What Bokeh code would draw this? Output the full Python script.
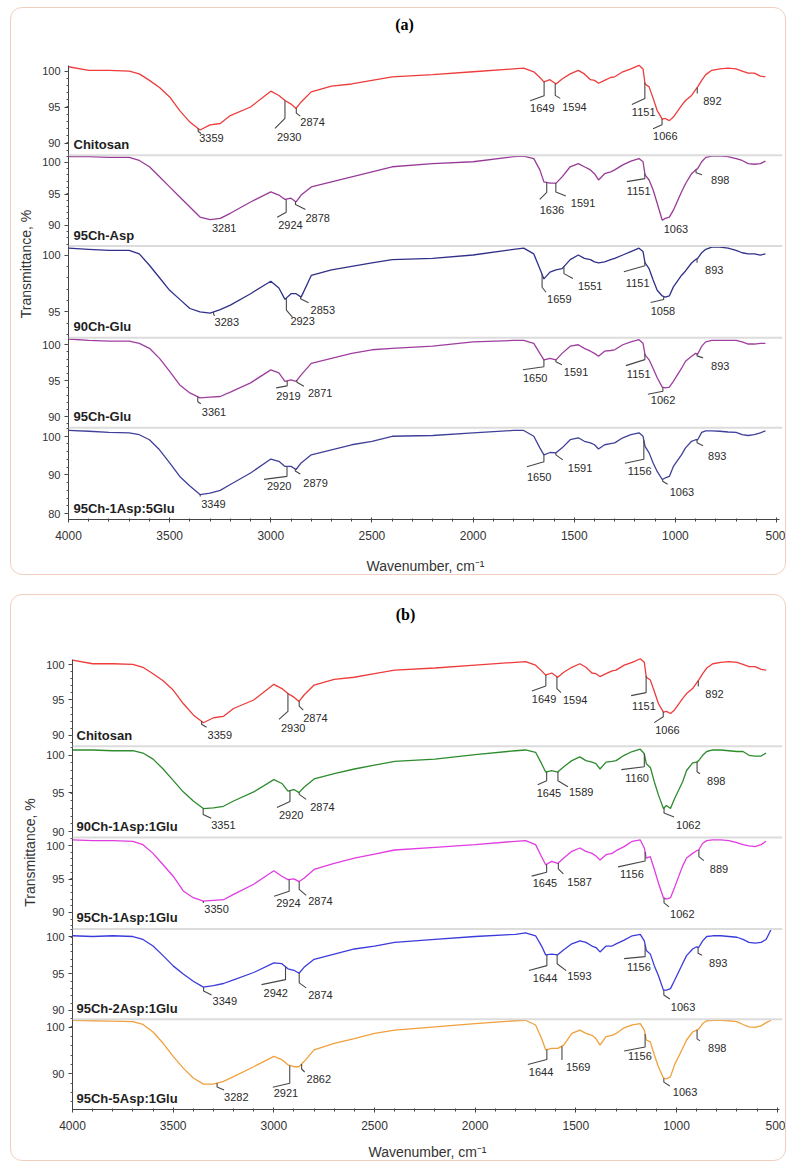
import numpy as np
from bokeh.plotting import figure
from bokeh.models import Range1d, FixedTicker, Span, ColumnDataSource
from bokeh.core.properties import value
from bokeh.embed import file_html
from bokeh.resources import INLINE

NAN = float("nan")

# ---------------- data ----------------
WAVENUMBER = [4000, 3900, 3800, 3700, 3650, 3600, 3550, 3500, 3450, 3400,
              3350, 3300, 3250, 3200, 3100, 3000, 2960, 2930, 2900, 2875,
              2850, 2800, 2700, 2600, 2500, 2400, 2200, 2000, 1800, 1750,
              1700, 1670, 1650, 1620, 1590, 1560, 1520, 1480, 1450, 1420,
              1400, 1380, 1350, 1320, 1300, 1260, 1220, 1180, 1160, 1150,
              1130, 1110, 1090, 1065, 1050, 1030, 1010, 970, 950, 920,
              900, 890, 870, 850, 820, 780, 740, 700, 670, 640,
              610, 580, 555, 530]

CHITOSAN = [100.6, 100.1, 100.1, 100.0, 99.6, 98.7, 97.7, 96.4, 94.5, 92.9,
            91.8, 92.5, 92.7, 93.8, 95.0, 97.2, 96.6, 95.9, 95.4, 94.8,
            95.7, 97.1, 97.9, 98.2, 98.7, 99.2, 99.5, 99.9, 100.3, 100.4,
            99.9, 99.1, 98.5, 98.8, 98.2, 98.9, 99.6, 100.1, 99.6, 98.8,
            98.7, 98.3, 98.7, 99.1, 99.2, 99.9, 100.3, 100.8, 100.3, 98.2,
            97.8, 96.2, 94.5, 93.3, 93.4, 93.1, 93.6, 95.2, 95.9, 96.6,
            97.4, 97.8, 98.7, 99.5, 100.1, 100.3, 100.4, 100.3, 100.0, 99.7,
            99.7, 99.3, 99.2, NAN]

CH95_ASP = [100.9, 100.9, 100.8, 100.8, 100.3, 99.3, 97.7, 96.1, 94.5, 92.9,
            91.3, 90.9, 91.1, 91.9, 93.7, 95.3, 94.8, 94.1, 94.3, 93.7,
            94.8, 96.1, 96.9, 97.7, 98.5, 99.3, 99.8, 100.1, 100.9, 101.0,
            100.6, 98.8, 96.9, 96.7, 96.7, 97.7, 99.3, 99.8, 99.3, 98.8,
            98.2, 97.2, 98.2, 98.5, 98.8, 99.6, 100.2, 100.6, 100.1, 98.0,
            97.2, 95.6, 93.5, 90.8, 91.1, 91.3, 92.4, 95.3, 96.6, 98.2,
            98.8, 99.0, 100.1, 100.8, 101.0, 101.0, 100.9, 100.6, 100.3, 99.8,
            99.7, 99.8, 100.2, NAN]

CH90_GLU = [100.6, 100.5, 100.4, 100.4, 100.1, 99.1, 98.0, 96.9, 96.1, 95.3,
            95.0, 94.9, 95.2, 95.6, 96.6, 97.7, 97.1, 96.1, 96.6, 96.6,
            96.3, 98.2, 98.7, 99.0, 99.3, 99.6, 99.7, 100.0, 100.5, 100.6,
            100.1, 98.8, 97.9, 98.5, 98.7, 98.8, 99.6, 100.0, 99.7, 99.6,
            99.4, 99.3, 99.4, 99.6, 99.7, 100.0, 100.3, 100.6, 100.3, 99.3,
            98.8, 97.8, 96.9, 96.4, 96.3, 96.4, 97.2, 98.2, 98.6, 99.3,
            99.6, 99.7, 100.2, 100.5, 100.7, 100.7, 100.6, 100.4, 100.2, 100.1,
            100.1, 100.0, 100.1, NAN]

CH95_GLU = [100.8, 100.6, 100.5, 100.5, 100.2, 99.5, 98.1, 96.3, 94.4, 93.3,
            92.6, 92.7, 92.8, 93.4, 94.7, 96.5, 96.1, 94.9, 95.1, 94.9,
            95.8, 97.4, 98.1, 98.8, 99.3, 99.5, 99.8, 100.4, 100.6, 100.6,
            100.2, 98.8, 97.9, 98.1, 97.9, 98.8, 99.8, 100.0, 99.5, 99.1,
            98.8, 98.4, 99.1, 99.2, 99.3, 100.0, 100.4, 100.7, 100.2, 98.6,
            97.9, 96.7, 95.4, 94.1, 94.0, 94.1, 94.9, 96.7, 97.7, 98.4,
            98.8, 98.7, 99.8, 100.4, 100.6, 100.6, 100.6, 100.6, 100.4, 100.1,
            100.1, 100.2, 100.2, NAN]

CH95_1ASP_5GLU = [101.5, 101.3, 101.0, 100.9, 100.4, 99.1, 96.5, 93.1, 89.6, 87.1,
                  84.9, 85.3, 86.0, 87.5, 90.5, 94.1, 93.5, 92.2, 92.2, 91.4,
                  93.1, 95.2, 96.5, 97.8, 98.7, 100.0, 100.2, 100.9, 101.5, 101.5,
                  100.0, 97.0, 95.2, 95.8, 95.7, 97.0, 99.1, 99.6, 98.7, 98.3,
                  97.8, 96.7, 97.8, 98.1, 98.3, 99.6, 100.4, 100.9, 100.0, 97.4,
                  95.7, 93.1, 90.9, 88.8, 89.2, 89.6, 92.2, 95.2, 97.0, 98.7,
                  99.1, 99.1, 101.0, 101.4, 101.4, 101.3, 101.1, 101.0, 100.4, 100.2,
                  100.4, 100.9, 101.4, NAN]

CH90_1ASP_1GLU = [100.7, 100.7, 100.6, 100.6, 100.3, 99.5, 98.2, 96.7, 95.2, 94.0,
                  93.0, 93.1, 93.3, 94.0, 95.2, 96.8, 96.3, 95.3, 95.5, 95.1,
                  95.8, 96.9, 97.6, 98.2, 98.7, 99.2, 99.5, 100.1, 100.6, 100.7,
                  100.4, 98.9, 97.8, 98.0, 97.8, 98.5, 99.3, 99.8, 99.3, 99.1,
                  98.9, 98.2, 99.1, 99.2, 99.3, 100.0, 100.5, 100.8, 100.2, 98.9,
                  98.4, 96.5, 94.8, 93.0, 93.4, 93.0, 94.3, 96.5, 98.0, 99.0,
                  99.1, 99.3, 100.0, 100.5, 100.7, 100.7, 100.6, 100.5, 100.5, 100.0,
                  99.9, 99.9, 100.3, NAN]

CH95_1ASP_1GLU = [100.8, 100.7, 100.7, 100.6, 100.1, 98.8, 97.1, 95.4, 93.2, 92.2,
                  91.7, 91.8, 91.9, 92.7, 94.2, 96.2, 95.4, 94.9, 95.0, 94.6,
                  95.1, 96.4, 97.3, 98.1, 98.7, 99.3, 99.7, 100.1, 100.6, 100.7,
                  100.1, 98.3, 97.1, 97.6, 97.3, 98.1, 99.1, 99.6, 99.1, 98.8,
                  98.4, 97.8, 98.6, 98.8, 99.2, 99.8, 100.6, 100.8, 99.6, 98.1,
                  98.3, 96.4, 94.4, 92.2, 92.0, 92.2, 93.7, 96.9, 98.1, 98.8,
                  99.2, 99.3, 100.3, 100.7, 100.8, 100.8, 100.7, 100.4, 100.1, 99.9,
                  99.8, 100.1, 100.6, NAN]

CH95_2ASP_1GLU = [100.2, 100.1, 100.2, 100.1, 99.7, 98.8, 97.5, 96.1, 95.0, 94.0,
                  93.2, 93.4, 93.7, 94.2, 95.2, 96.5, 96.4, 95.7, 95.5, 95.1,
                  95.9, 97.0, 97.7, 98.4, 98.8, 99.3, 99.7, 100.1, 100.4, 100.6,
                  100.2, 98.8, 97.6, 97.7, 97.6, 98.3, 99.1, 99.5, 99.3, 98.8,
                  98.6, 98.0, 98.8, 98.8, 99.1, 99.6, 100.2, 100.4, 99.5, 98.2,
                  97.7, 96.1, 94.8, 92.8, 92.8, 93.0, 94.1, 96.4, 97.5, 98.4,
                  98.7, 98.6, 99.5, 100.1, 100.2, 100.2, 100.1, 100.0, 99.7, 99.3,
                  99.2, 99.3, 99.7, 101.1]

CH95_5ASP_1GLU = [101.4, 101.3, 101.2, 101.1, 100.5, 98.9, 96.5, 93.7, 91.2, 89.1,
                  87.8, 87.8, 88.4, 89.4, 91.5, 93.7, 93.0, 91.9, 91.5, 91.5,
                  92.6, 95.1, 96.5, 97.5, 98.6, 99.3, 100.0, 100.7, 101.3, 101.4,
                  100.4, 97.5, 95.1, 95.4, 95.4, 96.1, 98.6, 99.3, 98.6, 98.2,
                  97.5, 96.1, 97.9, 98.2, 98.6, 99.8, 100.4, 100.7, 99.3, 97.2,
                  96.8, 94.0, 91.5, 89.1, 88.9, 89.4, 91.9, 95.4, 97.2, 98.9,
                  99.3, 99.5, 100.7, 101.3, 101.4, 101.4, 101.3, 101.1, 100.5, 100.0,
                  99.9, 100.2, 100.9, 101.4]

NAMES_A = ["Chitosan", "95Ch-Asp", "90Ch-Glu", "95Ch-Glu", "95Ch-1Asp:5Glu"]
NAMES_B = ["Chitosan", "90Ch-1Asp:1Glu", "95Ch-1Asp:1Glu", "95Ch-2Asp:1Glu", "95Ch-5Asp:1Glu"]
SERIES_A = [CHITOSAN, CH95_ASP, CH90_GLU, CH95_GLU, CH95_1ASP_5GLU]
SERIES_B = [CHITOSAN, CH90_1ASP_1GLU, CH95_1ASP_1GLU, CH95_2ASP_1GLU, CH95_5ASP_1GLU]

PEAKS_A = [[3359, 2930, 2874, 1649, 1594, 1151, 1066, 892],
           [3281, 2924, 2878, 1636, 1591, 1151, 1063, 898],
           [3283, 2923, 2853, 1659, 1551, 1151, 1058, 893],
           [3361, 2919, 2871, 1650, 1591, 1151, 1062, 893],
           [3349, 2920, 2879, 1650, 1591, 1156, 1063, 893]]
PEAKS_B = [[3359, 2930, 2874, 1649, 1594, 1151, 1066, 892],
           [3351, 2920, 2874, 1645, 1589, 1160, 1062, 898],
           [3350, 2924, 2874, 1645, 1587, 1156, 1062, 889],
           [3349, 2942, 2874, 1644, 1593, 1156, 1063, 893],
           [3282, 2921, 2862, 1644, 1569, 1156, 1063, 898]]

YTICKS_A = [[100, 95, 90], [100, 95, 90], [100, 95], [100, 95, 90], [100, 90, 80]]
YTICKS_B = [[100, 95, 90], [100, 95, 90], [100, 95, 90], [100, 95, 90], [100, 90]]
XTICKS = [4000, 3500, 3000, 2500, 2000, 1500, 1000, 500]

# ---------------- styles and layout ----------------
COLORS_A = ["#ee3b3b", "#983b98", "#30308a", "#9e3e9e", "#40409a"]
COLORS_B = ["#ee3b3b", "#2e8b2e", "#e03ce0", "#3b3bdc", "#f0a03c"]

# per band: p0, scale, t0, top, bottom, minor step  (reference pixel layout)
BANDS_A = [(106.67, 7.2, 95, 65, 155, 1), (193.67, 6.3, 95, 155, 246, 1),
           (312.0, 11.4, 95, 246, 338, 1), (380.9, 7.2, 95, 338, 428, 1),
           (475.3, 3.87, 90, 428, 520, 2)]
BANDS_B = [(702.3, 7.16, 95, 662, 749, 1), (796.4, 7.67, 95, 749, 841, 1),
           (882.6, 6.77, 95, 841, 933, 1), (978.4, 7.4, 95, 933, 1024, 1),
           (1079.0, 4.73, 90, 1024, 1115, 2)]

# leader layout per label: (vertical, dx, dy, label dx, label dy) in pixels
ANN_A = [
    [(3, 3, 2, 1, 9), (18, -10, 10, -8, 36), (5, 4, 3, 4, 14), (14, -14, 5, -14, 26),
     (12, 5, 3, 7, 24), (16, -13, 6, -13, 30), (6, -9, 4, -9, 17), (6, 0, 0, 6, 14)],
    [(0, 0, 0, -2, 9), (13, -9, 5, -8, 26), (3, 10, 5, 10, 16), (10, -7, 7, -7, 28),
     (9, 10, 4, 15, 20), (5, -18, 3, -18, 17), (0, 0, 0, 1, 9), (3, 6, 2, 15, 10)],
    [(2, 1, 2, 1, 10), (12, 6, 7, 4, 23), (2, 8, 4, 10, 13), (13, 4, 5, 5, 25),
     (7, 9, 5, 14, 19), (4, -21, 6, -19, 21), (3, -13, 3, -13, 14), (4, 0, 0, 8, 11)],
    [(5, 3, 2, 4, 15), (5, -11, 2, -11, 15), (2, 7, 4, 11, 13), (7, -21, 3, -21, 18),
     (2, 6, 3, 8, 12), (6, -19, 6, -18, 20), (4, -15, 3, -12, 13), (2, 6, 2, 14, 12)],
    [(2, 0, 0, 1, 9), (10, -23, 3, -20, 20), (2, 5, 3, 8, 14), (7, -17, 5, -17, 22),
     (2, 7, 5, 12, 15), (19, -19, 4, -16, 31), (2, 5, 3, 7, 13), (3, 6, 3, 11, 16)],
]
ANN_B = [
    [(3, 5, 3, 6, 14), (18, -9, 8, -7, 34), (5, 4, 4, 4, 17), (11, -14, 5, -14, 24),
     (12, 4, 4, 6, 23), (17, -15, 3, -14, 30), (5, -9, 6, -8, 18), (6, 0, 0, 7, 13)],
    [(6, 8, 4, 8, 17), (11, -13, 6, -11, 24), (2, 7, 5, 11, 15), (9, -9, 4, -10, 21),
     (9, 10, 6, 11, 20), (13, -23, 3, -19, 24), (5, 10, 4, 12, 17), (10, 3, 2, 10, 19)],
    [(2, 0, 0, 1, 8), (12, -15, 5, -13, 24), (8, 7, 6, 9, 20), (8, -15, 4, -14, 19),
     (6, 5, 5, 9, 19), (9, -27, 6, -25, 22), (5, 5, 4, 6, 16), (7, 5, 4, 11, 19)],
    [(4, 8, 4, 9, 14), (13, -24, 5, -22, 26), (10, 7, 5, 9, 22), (11, -18, 5, -14, 23),
     (9, 9, 7, 10, 21), (12, -21, 2, -18, 22), (5, 6, 4, 7, 17), (6, 4, 2, 11, 16)],
    [(4, 7, 3, 7, 14), (18, -17, 4, -16, 28), (5, 3, 3, 5, 15), (10, -19, 5, -18, 22),
     (14, 0, 0, 4, 21), (13, -21, 4, -17, 22), (4, 6, 4, 9, 14), (9, 3, 2, 11, 18)],
]

GEO_A = dict(offset=8, canvas_left=11, width=776, height=568, frame_left=68, frame_right=782,
             kx=0.2023, axis_top=65, frame_bottom=520, title_x=404, title_y=24,
             name_dx=5, xlab_standoff=15, margin=(7, 0, 0, 10))
GEO_B = dict(offset=597, canvas_left=11, width=776, height=567, frame_left=72, frame_right=782,
             kx=0.20134, axis_top=662, frame_bottom=1115, title_x=405, title_y=616,
             name_dx=4, xlab_standoff=11, margin=(19, 0, 0, 10))

SANS = "Liberation Sans"
BOX_STYLE = {"border": "1px solid #f1cfbf", "border-radius": "12px"}


def build(label, names, series, peaks, yticks, colors, bands, ann, g):
    off = g["offset"]
    canvas_left = g["canvas_left"]
    kx = g["kx"]
    fb_local = g["frame_bottom"] - off
    x_end = 4000 - (g["frame_right"] - g["frame_left"]) / kx
    p = figure(width=g["width"], height=g["height"],
               x_range=Range1d(4000, x_end), y_range=Range1d(-fb_local, 0),
               output_backend="svg", toolbar_location=None,
               min_border_left=g["frame_left"] - canvas_left,
               min_border_right=g["width"] - (g["frame_right"] - canvas_left),
               min_border_top=0, min_border_bottom=g["height"] - fb_local,
               outline_line_color=None, background_fill_color=None,
               border_fill_color=None, styles=BOX_STYLE, margin=g["margin"])
    p.xgrid.visible = False
    p.ygrid.visible = False

    wn = np.array(WAVENUMBER, dtype=float)
    major, minor, overrides = [], [], {}
    lead_xs, lead_ys = [], []
    tx, ty, tt, txo, tyo = [], [], [], [], []

    for i in range(len(names)):
        p0, s, t0, top, bottom, step = bands[i]

        def ypos(T):
            return -(p0 - s * (np.asarray(T, dtype=float) - t0) - off)

        T = np.array(series[i], dtype=float)
        p.line(wn, ypos(T), line_color=colors[i], line_width=1.3)

        for v in yticks[i]:
            yy = int(round(float(ypos(v))))
            major.append(yy)
            overrides[yy] = str(v)
        t_lo = t0 + (p0 - bottom) / s
        t_hi = t0 + (p0 - top) / s
        v = int(np.ceil(t_lo / step)) * step
        while v <= t_hi:
            minor.append(float(ypos(v)))
            v += step

        if i < len(names) - 1:
            p.add_layout(Span(location=-(bottom - off), dimension="width",
                              line_color="#dcdcdc", line_width=2))

        p.text(x=[4000 - g["name_dx"] / kx], y=[-(bottom - off - 11)], text=[names[i]],
               text_font=value(SANS), text_font_style="bold", text_font_size="13px",
               text_color="#1e1e1e", text_align="left", text_baseline="middle")

        ok = ~np.isnan(T)
        xs_asc = wn[ok][::-1]
        t_asc = T[ok][::-1]
        for pk, (vv, dx, dy, lx, ly) in zip(peaks[i], ann[i]):
            y0 = float(ypos(np.interp(pk, xs_asc, t_asc)))
            if vv or dx or dy:
                lead_xs.append([pk, pk, pk - dx / kx])
                lead_ys.append([y0, y0 - vv, y0 - vv - dy])
            tx.append(pk)
            ty.append(y0)
            tt.append(str(pk))
            txo.append(lx)
            tyo.append(ly)

    p.multi_line(lead_xs, lead_ys, line_color="#474747", line_width=1.1)
    src = ColumnDataSource(dict(x=tx, y=ty, text=tt, xo=txo, yo=tyo))
    p.text(x="x", y="y", text="text", x_offset="xo", y_offset="yo", source=src,
           text_font=value(SANS), text_font_size="11px", text_color="#2b2b2b",
           text_align="left", text_baseline="middle")

    p.text(x=[4000 - (g["title_x"] - g["frame_left"]) / kx], y=[-(g["title_y"] - off)],
           text=[label], text_font=value("Liberation Serif"), text_font_style="bold",
           text_font_size="16px", text_color="#000000", text_align="center",
           text_baseline="middle")

    xa = p.xaxis[0]
    xa.ticker = FixedTicker(ticks=XTICKS, minor_ticks=list(range(500, 4001, 100)))
    xa.bounds = (4000 - (g["frame_right"] - 3 - g["frame_left"]) / kx, 4000)
    xa.axis_label = "Wavenumber, cm\u207b\u00b9"
    xa.axis_label_text_font = SANS
    xa.axis_label_text_font_style = "normal"
    xa.axis_label_text_font_size = "14px"
    xa.axis_label_text_color = "#333333"
    xa.axis_label_standoff = g["xlab_standoff"]
    xa.major_label_text_font = SANS
    xa.major_label_text_font_size = "12px"
    xa.major_label_text_color = "#333333"
    xa.major_label_standoff = 8
    xa.major_tick_in = 2
    xa.major_tick_out = 3
    xa.minor_tick_in = 1
    xa.minor_tick_out = 2
    xa.axis_line_color = "#444444"
    xa.major_tick_line_color = "#444444"
    xa.minor_tick_line_color = "#444444"

    ya = p.yaxis[0]
    ya.ticker = FixedTicker(ticks=major, minor_ticks=minor)
    ya.major_label_overrides = overrides
    ya.bounds = (-(g["frame_bottom"] - off), -(g["axis_top"] - off))
    ya.axis_label = "Transmittance, %"
    ya.axis_label_text_font = SANS
    ya.axis_label_text_font_style = "normal"
    ya.axis_label_text_font_size = "14px"
    ya.axis_label_text_color = "#333333"
    ya.axis_label_standoff = 5
    ya.major_label_text_font = SANS
    ya.major_label_text_font_size = "11px"
    ya.major_label_text_color = "#333333"
    ya.major_label_standoff = 4
    ya.major_tick_in = 0
    ya.major_tick_out = 4
    ya.minor_tick_in = 0
    ya.minor_tick_out = 2
    ya.axis_line_color = "#444444"
    ya.major_tick_line_color = "#444444"
    ya.minor_tick_line_color = "#555555"
    return p


for arr in SERIES_A + SERIES_B:
    assert len(arr) == len(WAVENUMBER), len(arr)

pa = build("(a)", NAMES_A, SERIES_A, PEAKS_A, YTICKS_A, COLORS_A, BANDS_A, ANN_A, GEO_A)
pb = build("(b)", NAMES_B, SERIES_B, PEAKS_B, YTICKS_B, COLORS_B, BANDS_B, ANN_B, GEO_B)

# two independent roots so that the two frames keep their own left edges
open("out.html", "w").write(file_html([pa, pb], INLINE, "FTIR spectra"))
